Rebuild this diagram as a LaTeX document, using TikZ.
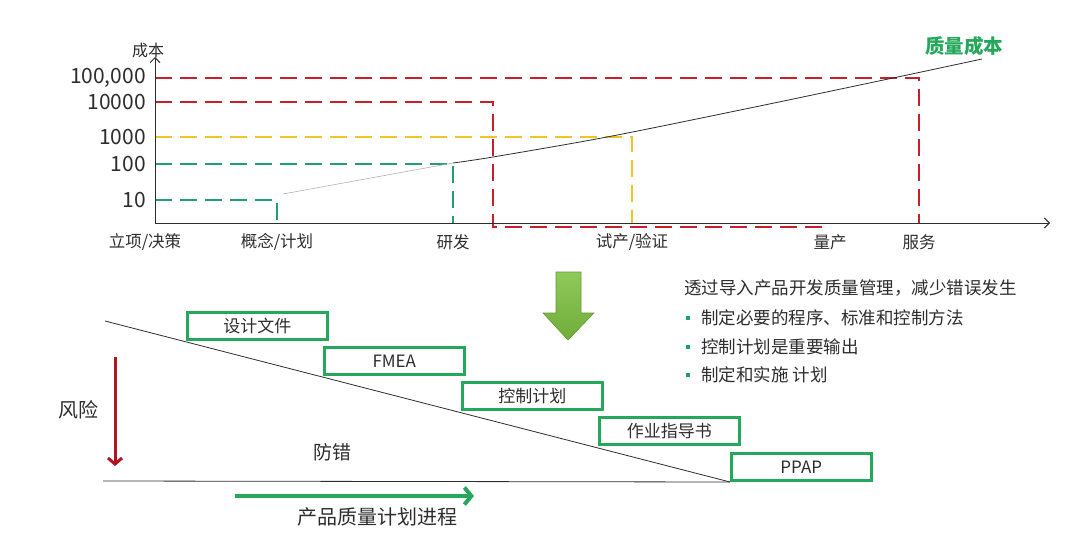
\documentclass[tikz,border=0pt]{standalone}
\usepackage{fontspec}
\setmainfont{Noto Sans CJK SC}
\usepackage{xcolor}
\usetikzlibrary{arrows.meta, positioning, calc}
\definecolor{qred}{RGB}{200,32,42}
\definecolor{qyellow}{RGB}{238,198,40}
\definecolor{qteal}{RGB}{32,160,112}
\definecolor{qgreen}{RGB}{38,168,92}
\definecolor{qlime}{RGB}{124,192,62}
\definecolor{qdark}{RGB}{176,22,32}
\definecolor{txt}{RGB}{45,45,45}

\begin{document}
\begin{tikzpicture}[x=1pt, y=-1pt,
  every node/.style={text=txt, inner sep=0pt},
  axis/.style={line width=0.9pt, draw=txt, -{Straight Barb[length=5pt, width=10pt]}},
  tick/.style={font=\fontsize{21}{21}\selectfont, anchor=east},
  phase/.style={font=\fontsize{16.5}{17}\selectfont},
  guide/.style={line width=2pt, dash pattern=on 17pt off 8pt},
  doc/.style={draw=qgreen, line width=2.6pt, minimum width=140pt, minimum height=27pt,
              anchor=south west, font=\fontsize{17}{17}\selectfont},
  note/.style={font=\fontsize{17.5}{18}\selectfont, anchor=west},
  dot/.style={fill=qteal, minimum size=4pt}]
  \useasboundingbox (0,0) rectangle (1080,535);

  % cost of quality chart
  \coordinate (O) at (155,223);
  \coordinate (ytop) at (155,57);
  \coordinate (xend) at (1050,223);
  \node[font=\fontsize{16}{16}\selectfont] (cost) at (148,50) {成本};
  \node[tick] (l5) at (146,78) {100,000};
  \node[tick] (l4) at (146,102) {10000};
  \node[tick] (l3) at (146,137) {1000};
  \node[tick] (l2) at (146,164) {100};
  \node[tick] (l1) at (146,200) {10};
  \node[phase] (init) at (145,242) {立项/决策};
  \node[phase] (plan) at (277,242) {概念/计划};
  \node[phase] (rd) at (453,242) {研发};
  \node[phase] (pilot) at (632,242) {试产/验证};
  \node[phase] (mass) at (830,242) {量产};
  \node[phase] (svc) at (919,242) {服务};
  \node[font=\fontsize{19.5}{20}\selectfont\bfseries, text=qgreen] (coq) at (964,46) {质量成本};
  \coordinate (d4) at (493,227);

  \draw[guide, qred] (O |- l5) -| (svc |- O);
  \draw[guide, qred] (O |- l4) -| (d4) -- (mass |- d4);
  \draw[guide, qyellow] (O |- l3) -| (pilot |- O);
  \draw[guide, qteal] (O |- l2) -| (rd |- O);
  \draw[guide, qteal] (O |- l1) -| (plan |- O);
  \draw[axis] (O) -- (ytop);
  \draw[axis] (O) -- (xend);
  \draw[gray!60, line width=0.6pt] (283,194) -- (453,163);
  \draw[txt, line width=0.8pt] plot[smooth] coordinates
    {(453,163) (493,157) (607,137) (750,108) (893,78) (982,59)};

  % down arrow
  \shade[top color=qlime!85!white, bottom color=qlime!90!black, draw=qlime!80!black, line width=0.6pt]
    (556,272) -- (581,272) -- (581,313) -- (594,313) -- (568,340) -- (543,313) -- (556,313) -- cycle;

  % risk staircase
  \node[doc] (dfile) at (186,341) {设计文件};
  \node[doc] (fmea) at (323,376) {FMEA};
  \node[doc] (cplan) at (461,411) {控制计划};
  \node[doc] (wi) at (598,446) {作业指导书};
  \node[doc] (ppap) at (730,482) {PPAP};
  \coordinate (rtop) at (105,321);
  \coordinate (base) at (103,481);
  \draw[txt, line width=0.8pt] (rtop) -- (ppap.south west);
  \draw[txt, line width=0.8pt] (base) -- (ppap.south west);

  \node[font=\fontsize{20}{20}\selectfont] (risk) at (78,410) {风险};
  \draw[qdark, line width=3pt, -{Straight Barb[length=6pt, width=14pt]}] (115,357) -- (115,466);
  \node[font=\fontsize{19}{19}\selectfont] (poka) at (332,452) {防错};
  \node[font=\fontsize{20}{20}\selectfont] (apqp) at (377,517) {产品质量计划进程};
  \draw[qgreen, line width=4pt, -{Straight Barb[length=7pt, width=17pt]}] (235,496) -- (474,496);

  % notes
  \node[note] (goal) at (684,288) {透过导入产品开发质量管理，减少错误发生};
  \node[dot] (b1) at (688,318) {};
  \node[dot] (b2) at (688,347) {};
  \node[dot] (b3) at (688,375) {};
  \node[note, right=11pt of b1] {制定必要的程序、标准和控制方法};
  \node[note, right=11pt of b2] {控制计划是重要输出};
  \node[note, right=11pt of b3] {制定和实施 计划};
\end{tikzpicture}
\end{document}
